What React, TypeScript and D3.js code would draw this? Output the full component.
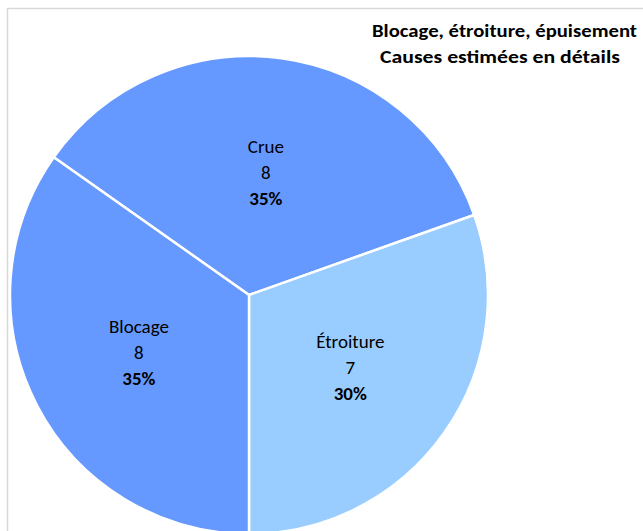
import React from "react";
import * as d3 from "d3";

const categories = ["Crue", "Étroiture", "Blocage"];
const values = [8, 7, 8];
const colors = ["#6699FF", "#99CCFF", "#6699FF"];
const titleLines = ["Blocage, étroiture, épuisement", "Causes estimées en détails"];

export default function App() {
  const W = 643;
  const H = 531;
  const cx = 249;
  const cy = 295;
  const R = 239;
  const total = d3.sum(values);
  // Boundary between Étroiture and Blocage falls at the bottom (180°)
  const start = Math.PI - 2 * Math.PI * ((values[0] + values[1]) / total);
  const pie = d3
    .pie<number>()
    .sort(null)
    .startAngle(start)
    .endAngle(start + 2 * Math.PI);
  const arcs = pie(values);
  const arc = d3.arc<d3.PieArcDatum<number>>().innerRadius(0).outerRadius(R);
  const labelArc = d3.arc<d3.PieArcDatum<number>>().innerRadius(124).outerRadius(124);
  const font = "Carlito, Calibri, Lato, 'Liberation Sans', Arial, sans-serif";

  return (
    <svg
      width={W}
      height={H}
      style={{ position: "absolute", left: 0, top: 0, background: "#fff" }}
    >
      <line x1={7.5} y1={8} x2={7.5} y2={H} stroke="#d9d9d9" strokeWidth={1.5} />
      <line x1={7} y1={8.5} x2={W} y2={8.5} stroke="#d9d9d9" strokeWidth={1.5} />
      <g transform={`translate(${cx},${cy})`}>
        {arcs.map((a, i) => (
          <path key={i} d={arc(a) || ""} fill={colors[i]} stroke="#fff" strokeWidth={2.5} strokeLinejoin="miter" />
        ))}
        {arcs.map((a, i) => {
          const [x, y] = labelArc.centroid(a);
          const pct = Math.round((values[i] / total) * 100) + "%";
          return (
            <g key={"l" + i} transform={`translate(${x},${y})`} fontFamily={font} fontSize={19} fill="#000" textAnchor="middle">
              <text y={-19}>{categories[i]}</text>
              <text y={7}>{values[i]}</text>
              <text y={33} fontWeight="bold">{pct}</text>
            </g>
          );
        })}
      </g>
      <g fontFamily={font} fontWeight="bold" fontSize={18.5} fill="#000">
        <text x={372} y={37} textLength={265} lengthAdjust="spacingAndGlyphs">{titleLines[0]}</text>
        <text x={380} y={63} textLength={240} lengthAdjust="spacingAndGlyphs">{titleLines[1]}</text>
      </g>
    </svg>
  );
}
